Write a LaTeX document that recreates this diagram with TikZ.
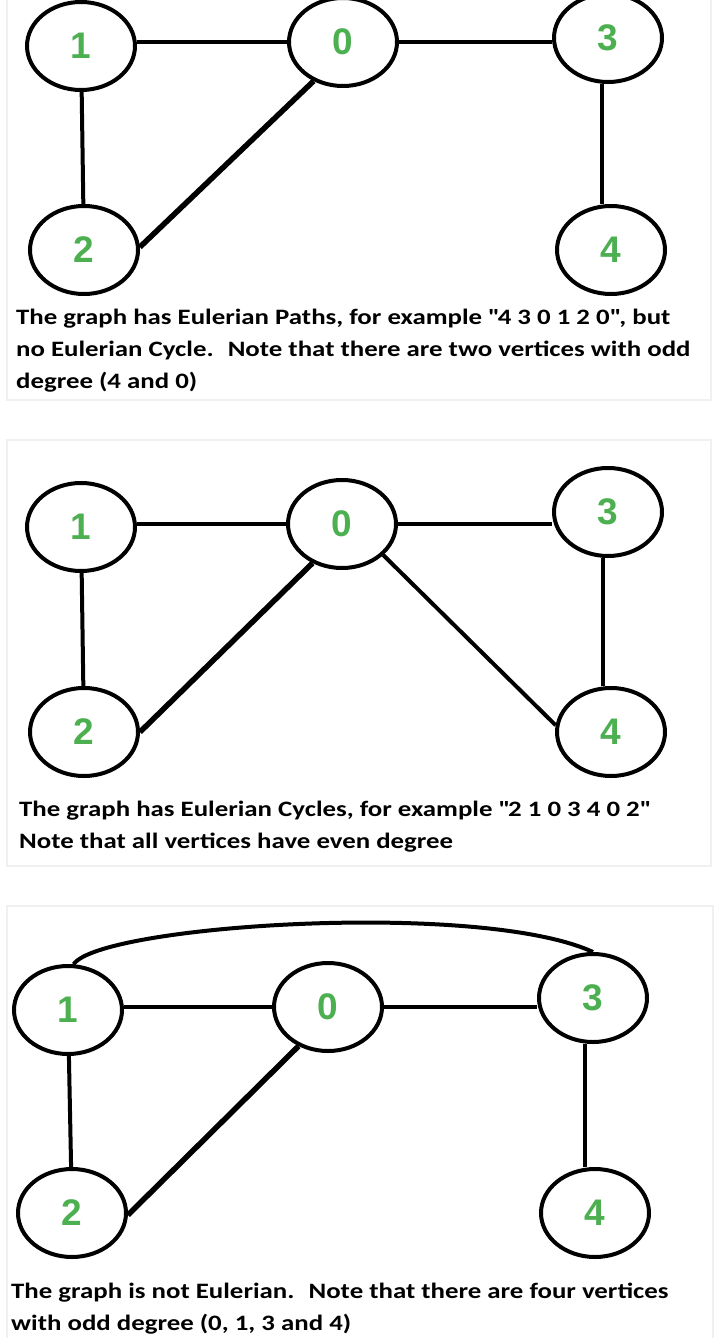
\documentclass[tikz,border=0pt]{standalone}
\usepackage{fontspec}
\setmainfont{Carlito}[FakeStretch=1.22]
\newfontfamily\digitfont{Liberation Sans}
\usetikzlibrary{shapes.geometric}
\definecolor{vgreen}{RGB}{76,175,80}
\newcommand{\qt}[1]{\textquotedbl#1\textquotedbl}
\tikzset{
vertex/.style={draw,ellipse,line width=4pt,minimum width=108pt,minimum height=88pt,inner sep=0pt,fill=white,text=vgreen,font=\digitfont\bfseries\fontsize{37}{37}\selectfont},
edge/.style={line width=4pt},
wide edge/.style={line width=5.5pt},
caption/.style={anchor=base west,align=left,inner sep=0pt,font=\bfseries\fontsize{22}{32}\selectfont},
panel/.style={fill=white,draw=black!6,line width=1.5pt}
}

\begin{document}
\begin{tikzpicture}[x=1pt,y=-1pt]
\useasboundingbox (0,0) rectangle (720,1338);
\fill[white] (0,0) rectangle (720,1338);
\path[panel] (7,-5) rectangle (711,400);
\path[panel] (7,440) rectangle (711,866);
\path[panel] (7,906) rectangle (713,1345);

\node[vertex] (a1) at (81,46) {1};
\node[vertex] (a0) at (343,42) {0};
\node[vertex] (a3) at (608,38) {3};
\node[vertex] (a2) at (84,250) {2};
\node[vertex] (a4) at (611,250) {4};
\draw[edge] (a1.east |- a0.west) -- (a0.west);
\draw[edge] (a0.east) -- (a0.east -| a3.west);
\draw[edge] (a1) -- (a2);
\draw[wide edge] (a0.233) -- (a2.3);
\draw[edge] ([xshift=-6pt]a3.south) -- ([xshift=-9pt]a4.north);
\node[caption] (ta) at (16,388) {The graph has Eulerian Paths, for example \qt{4 3 0 1 2 0}, but\\no Eulerian Cycle.~ Note that there are two vertices with odd\\degree (4 and 0)};

\node[vertex] (b1) at (81,527) {1};
\node[vertex] (b0) at (342,524) {0};
\node[vertex] (b3) at (608,512) {3};
\node[vertex] (b2) at (84,732) {2};
\node[vertex] (b4) at (611,732) {4};
\draw[edge] (b1.east |- b0.west) -- (b0.west);
\draw[edge] (b0.east) -- (b0.east -| b3.west);
\draw[edge] (b1) -- (b2);
\draw[wide edge] (b0.233) -- (b2.0);
\draw[edge] (b0.323) -- (b4.173);
\draw[edge] ([xshift=-5pt]b3.south) -- ([xshift=-8pt]b4.north);
\node[caption] (tb) at (19,848) {The graph has Eulerian Cycles, for example \qt{2 1 0 3 4 0 2}\\Note that all vertices have even degree};

\node[vertex] (c1) at (68,1010) {1};
\node[vertex] (c0) at (328,1007) {0};
\node[vertex] (c3) at (593,998) {3};
\node[vertex] (c2) at (72,1213) {2};
\node[vertex] (c4) at (595,1213) {4};
\draw[edge] (c1.east |- c0.west) -- (c0.west);
\draw[edge] (c0.east) -- (c0.east -| c3.west);
\draw[edge] (c1) -- (c2);
\draw[wide edge] (c0.233) -- (c2.358);
\draw[edge] ([xshift=-8pt]c3.south) -- ([xshift=-10pt]c4.north);
\draw[edge] (c1.83) .. controls (100,925) and (480,900) .. (c3.north);
\node[caption] (tc) at (11,1330) {The graph is not Eulerian.~ Note that there are four vertices\\with odd degree (0, 1, 3 and 4)};
\end{tikzpicture}
\end{document}
